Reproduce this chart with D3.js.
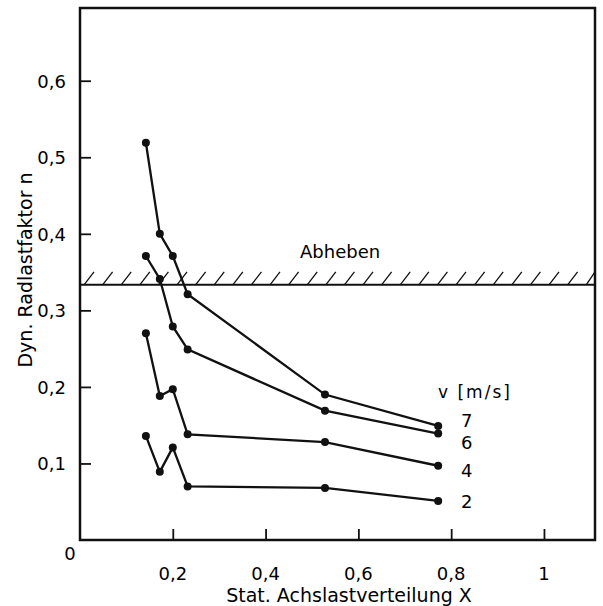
<!DOCTYPE html>
<html lang="de">
<head>
    <meta charset="UTF-8">
    <title>Dyn. Radlastfaktor</title>
    <style>
        body { margin: 0; background: #fff; }
        svg text { font-family: "DejaVu Sans", sans-serif; fill: #000; }
    </style>
    <script src="https://d3js.org/d3.v7.min.js"></script>
</head>
<body>
    <div id="chart"></div>

    <script>
        // x values of the measuring points (stat. Achslastverteilung X)
        const xValues = [0.142, 0.172, 0.200, 0.232, 0.528, 0.772];
        // dyn. Radlastfaktor n per speed v [m/s]
        const speeds = ["7", "6", "4", "2"];
        const n7 = [0.519, 0.400, 0.371, 0.321, 0.190, 0.149];
        const n6 = [0.371, 0.341, 0.279, 0.249, 0.169, 0.139];
        const n4 = [0.270, 0.188, 0.197, 0.138, 0.128, 0.097];
        const n2 = [0.136, 0.089, 0.121, 0.070, 0.068, 0.051];
        const xTicks = [0.2, 0.4, 0.6, 0.8, 1];
        const yTicks = [0.1, 0.2, 0.3, 0.4, 0.5, 0.6];
        const liftOff = 1 / 3;

        const series = [n7, n6, n4, n2];
        const fmt = d => String(d).replace(".", ",");

        const width = 603, height = 606;
        const margin = {top: 8, right: 8, bottom: 66, left: 80};
        const innerW = width - margin.left - margin.right;
        const innerH = height - margin.top - margin.bottom;

        const svg = d3.select("#chart").append("svg")
            .attr("width", width)
            .attr("height", height);

        const x = d3.scaleLinear().domain([0, 1.11]).range([margin.left, margin.left + innerW]);
        const y = d3.scaleLinear().domain([0, 0.695]).range([margin.top + innerH, margin.top]);

        // hatching above the lift-off line
        const hatch = svg.append("g").attr("stroke", "#111").attr("stroke-width", 1.3);
        const hatchH = 13, hatchStep = 18.6;
        for (let hx = x(0) + 4; hx < x(1.11) - 2; hx += hatchStep) {
            hatch.append("line")
                .attr("x1", hx).attr("y1", y(liftOff))
                .attr("x2", Math.min(hx + 10, x(1.11))).attr("y2", y(liftOff) - hatchH);
        }
        svg.append("line")
            .attr("x1", x(0)).attr("x2", x(1.11))
            .attr("y1", y(liftOff)).attr("y2", y(liftOff))
            .attr("stroke", "#111").attr("stroke-width", 2);
        svg.append("text")
            .attr("x", 300).attr("y", 258)
            .attr("font-size", 18)
            .text("Abheben");

        // axes with inward ticks
        const xAxis = svg.append("g")
            .attr("transform", `translate(0, ${y(0)})`)
            .call(d3.axisTop(x).tickValues(xTicks).tickSize(11).tickFormat(""));
        const yAxis = svg.append("g")
            .attr("transform", `translate(${x(0)}, 0)`)
            .call(d3.axisRight(y).tickValues(yTicks).tickSize(11).tickFormat(""));
        [xAxis, yAxis].forEach(g => {
            g.select(".domain").remove();
            g.selectAll("line").attr("stroke", "#111").attr("stroke-width", 1.8);
        });

        // frame
        svg.append("rect")
            .attr("x", x(0)).attr("y", y(0.695))
            .attr("width", x(1.11) - x(0)).attr("height", y(0) - y(0.695))
            .attr("fill", "none").attr("stroke", "#111").attr("stroke-width", 2.5);

        // tick labels
        svg.selectAll(".xlab").data(xTicks).enter().append("text")
            .attr("class", "xlab")
            .attr("x", d => x(d)).attr("y", 580)
            .attr("text-anchor", "middle").attr("font-size", 18)
            .text(fmt);
        svg.append("text")
            .attr("x", 70).attr("y", 560)
            .attr("text-anchor", "middle").attr("font-size", 18)
            .text("0");
        svg.selectAll(".ylab").data(yTicks).enter().append("text")
            .attr("class", "ylab")
            .attr("x", 66).attr("y", d => y(d) + 7)
            .attr("text-anchor", "end").attr("font-size", 18)
            .text(fmt);

        // axis titles
        svg.append("text")
            .attr("x", 349).attr("y", 602)
            .attr("text-anchor", "middle").attr("font-size", 19)
            .text("Stat. Achslastverteilung X");
        svg.append("text")
            .attr("transform", "translate(32, 270) rotate(-90)")
            .attr("text-anchor", "middle").attr("font-size", 19)
            .text("Dyn. Radlastfaktor n");

        // curves
        const line = d3.line().x((d, i) => x(xValues[i])).y(d => y(d));
        series.forEach(s => {
            svg.append("path")
                .datum(s)
                .attr("d", line)
                .attr("fill", "none").attr("stroke", "#111").attr("stroke-width", 2.3);
            svg.selectAll(null).data(s).enter().append("circle")
                .attr("cx", (d, i) => x(xValues[i])).attr("cy", d => y(d))
                .attr("r", 4).attr("fill", "#111");
        });

        // speed labels
        svg.append("text")
            .attr("x", 438).attr("y", 398)
            .attr("font-size", 17)
            .attr("letter-spacing", 2)
            .text("v [m/s]");
        const labelY = [427, 449, 477, 508];
        svg.selectAll(".vlab").data(speeds).enter().append("text")
            .attr("class", "vlab")
            .attr("x", 461).attr("y", (d, i) => labelY[i])
            .attr("font-size", 18)
            .text(d => d);
    </script>
</body>
</html>
